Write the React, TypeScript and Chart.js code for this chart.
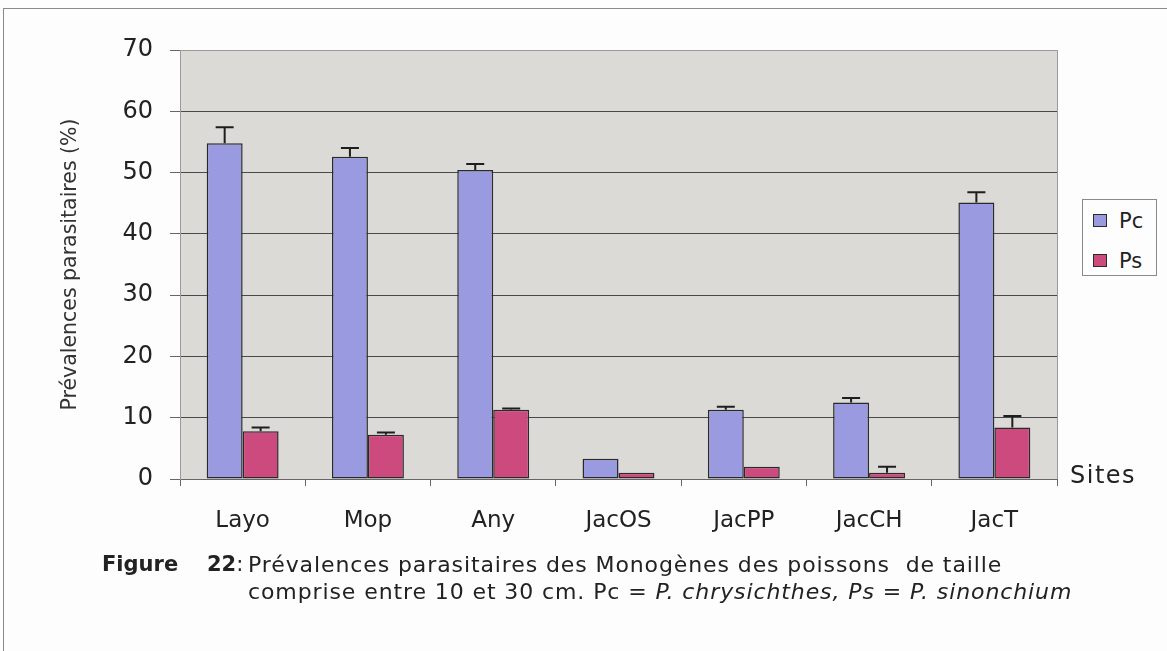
import React, { useEffect, useRef } from 'react';
import { Chart, registerables } from 'chart.js';

Chart.register(...registerables);

const sites = ['Layo', 'Mop', 'Any', 'JacOS', 'JacPP', 'JacCH', 'JacT'];
const pcValues = [54.8, 52.6, 50.4, 3.3, 11.3, 12.5, 45.1];
const psValues = [7.8, 7.2, 11.3, 1.0, 2.0, 1.0, 8.4];
const pcErrors = [2.6, 1.4, 1.0, 0, 0.5, 0.7, 1.7];
const psErrors = [0.6, 0.4, 0.2, 0, 0, 1.0, 1.9];
const yMin = 0;
const yMax = 70;
const yStep = 10;

const seriesNames = ['Pc', 'Ps'];
const seriesColors = ['#9a9ae0', '#cc4a7e'];
const FONT = '"DejaVu Sans", sans-serif';
const INK = '#222';

const bgPlugin = {
  id: 'plotBg',
  beforeDraw(chart: any) {
    const { ctx, chartArea } = chart;
    ctx.save();
    ctx.fillStyle = '#dcdad6';
    ctx.fillRect(chartArea.left, chartArea.top, chartArea.right - chartArea.left, chartArea.bottom - chartArea.top);
    ctx.restore();
  },
  afterDraw(chart: any) {
    const { ctx, chartArea } = chart;
    ctx.save();
    ctx.strokeStyle = '#9a9a9a';
    ctx.lineWidth = 1;
    ctx.beginPath();
    ctx.moveTo(chartArea.right + 0.5, chartArea.top);
    ctx.lineTo(chartArea.right + 0.5, chartArea.bottom);
    ctx.stroke();
    ctx.restore();
  },
};

const errorPlugin = {
  id: 'errorBars',
  afterDatasetsDraw(chart: any) {
    const { ctx } = chart;
    const yScale = chart.scales.y;
    const errs = [pcErrors, psErrors];
    const vals = [pcValues, psValues];
    ctx.save();
    ctx.strokeStyle = '#1e1e1e';
    ctx.lineWidth = 2;
    chart.data.datasets.forEach((_: any, di: number) => {
      const meta = chart.getDatasetMeta(di);
      meta.data.forEach((bar: any, i: number) => {
        const e = errs[di][i];
        if (!e) return;
        const top = yScale.getPixelForValue(vals[di][i] + e);
        const x = bar.x;
        ctx.beginPath();
        ctx.moveTo(x, bar.y);
        ctx.lineTo(x, top);
        ctx.moveTo(x - 9, top);
        ctx.lineTo(x + 9, top);
        ctx.stroke();
      });
    });
    ctx.restore();
  },
};

export default function App() {
  const ref = useRef<HTMLCanvasElement | null>(null);

  useEffect(() => {
    if (!ref.current) return;
    const chart = new Chart(ref.current, {
      type: 'bar',
      data: {
        labels: sites,
        datasets: [
          {
            label: seriesNames[0],
            data: pcValues,
            backgroundColor: seriesColors[0],
            borderColor: '#2a2a2a',
            borderWidth: 1.5,
            borderSkipped: false,
            barPercentage: 1,
            categoryPercentage: 0.574,
          },
          {
            label: seriesNames[1],
            data: psValues,
            backgroundColor: seriesColors[1],
            borderColor: '#2a2a2a',
            borderWidth: 1.5,
            borderSkipped: false,
            barPercentage: 1,
            categoryPercentage: 0.574,
          },
        ],
      },
      options: {
        responsive: false,
        animation: false,
        devicePixelRatio: 1,
        layout: { padding: { left: 0, top: 50, right: 110, bottom: 0 } },
        plugins: {
          legend: { display: false },
          tooltip: { enabled: false },
        },
        scales: {
          x: {
            grid: {
              display: true,
              offset: true,
              drawOnChartArea: false,
              drawTicks: true,
              tickLength: 7,
              tickColor: '#666',
            },
            border: { display: true, color: '#666', width: 1 },
            ticks: {
              color: INK,
              font: { family: FONT, size: 23 },
              padding: 21,
            },
            afterFit(scale: any) {
              scale.height = 172;
            },
          },
          y: {
            min: yMin,
            max: yMax,
            ticks: {
              stepSize: yStep,
              color: INK,
              font: { family: FONT, size: 24 },
              padding: 17,
            },
            grid: {
              color: (c: any) => (c.tick && c.tick.value === yMax ? '#9a9a9a' : '#4a4a4a'),
              tickColor: '#666',
              tickLength: 10,
              lineWidth: 1,
            },
            border: { display: true, color: '#9a9a9a', width: 1 },
            title: {
              display: true,
              text: 'Prévalences parasitaires (%)',
              color: '#333',
              font: { family: FONT, size: 20.5 },
              padding: { top: 58, bottom: 0 },
            },
            afterFit(scale: any) {
              scale.width = 180;
            },
          },
        },
      },
      plugins: [bgPlugin, errorPlugin],
    });
    return () => chart.destroy();
  }, []);

  const textBase: React.CSSProperties = {
    position: 'absolute',
    fontFamily: FONT,
    color: INK,
    whiteSpace: 'pre',
    margin: 0,
  };

  return (
    <div
      style={{
        position: 'absolute',
        left: 0,
        top: 0,
        width: 1167,
        height: 651,
        background: '#fdfdfd',
        overflow: 'hidden',
      }}
    >
      <div style={{ position: 'absolute', left: 3, top: 8, right: -2, bottom: -2, borderTop: '1px solid #8a8a8a', borderLeft: '1px solid #8a8a8a' }} />
      <canvas ref={ref} width={1167} height={651} style={{ position: 'absolute', left: 0, top: 0, width: 1167, height: 651 }} />
      <div style={{ ...textBase, left: 1070, top: 461, fontSize: 24, lineHeight: '29px', letterSpacing: 1.5 }}>Sites</div>
      <div
        style={{
          position: 'absolute',
          left: 1082,
          top: 199,
          width: 75,
          height: 77,
          boxSizing: 'border-box',
          border: '1px solid #8a8a8a',
          background: '#fdfdfd',
        }}
      >
        {seriesNames.map((n, i) => (
          <div key={n} style={{ position: 'absolute', left: 0, top: 8 + i * 40, height: 26, width: 73 }}>
            <div
              style={{
                position: 'absolute',
                left: 10,
                top: 6,
                width: 14,
                height: 13,
                boxSizing: 'border-box',
                background: seriesColors[i],
                border: '1.5px solid #2a2a2a',
              }}
            />
            <div style={{ ...textBase, left: 36, top: 0, fontSize: 21, lineHeight: '26px' }}>{n}</div>
          </div>
        ))}
      </div>
      <div style={{ ...textBase, left: 102, top: 551, fontSize: 21, lineHeight: '27px' }}>
        <b>Figure</b>
      </div>
      <div style={{ ...textBase, left: 207, top: 551, fontSize: 21, lineHeight: '27px' }}>
        <b>22</b>:
      </div>
      <div style={{ ...textBase, left: 248, top: 551, fontSize: 22, lineHeight: '27px', letterSpacing: 0.9 }}>
        Prévalences parasitaires des Monogènes des poissons  de taille
      </div>
      <div style={{ ...textBase, left: 248, top: 578, fontSize: 22, lineHeight: '27px', letterSpacing: 0.9 }}>
        comprise entre 10 et 30 cm. Pc = <i>P. chrysichthes, Ps</i> = <i>P. sinonchium</i>
      </div>
    </div>
  );
}
